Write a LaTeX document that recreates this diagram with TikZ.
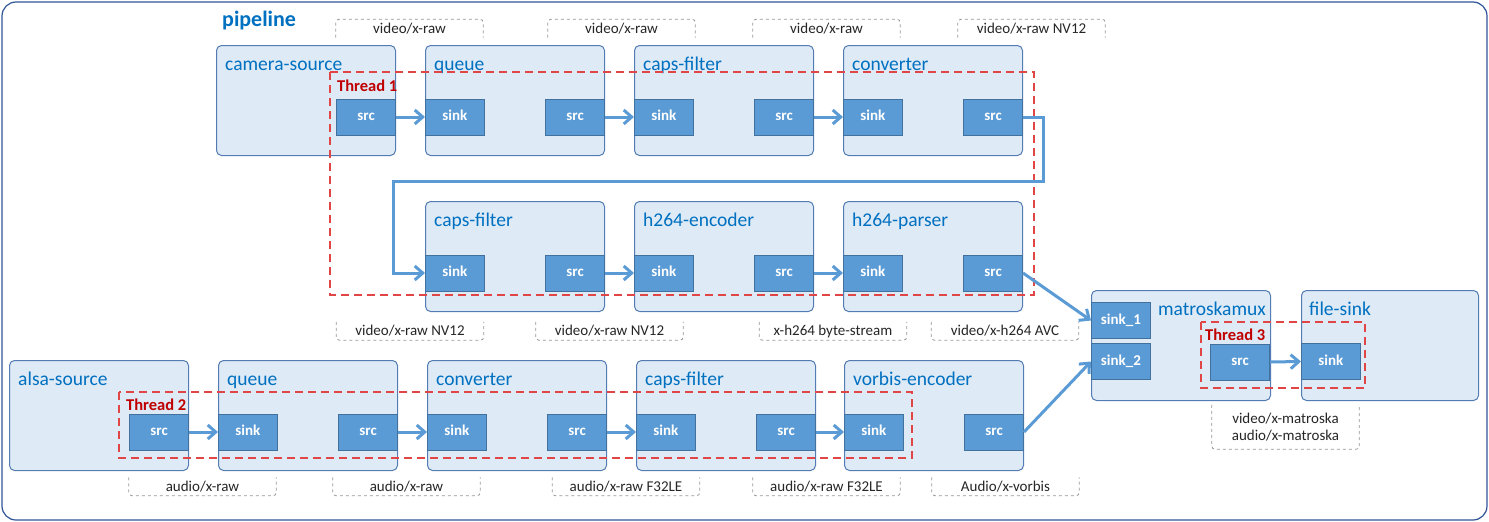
\documentclass[tikz,border=0pt]{standalone}
\usepackage{fontspec}
\setmainfont{Carlito}
\usetikzlibrary{arrows.meta}
\definecolor{frameblue}{RGB}{47,85,151}
\definecolor{elemfill}{RGB}{222,234,246}
\definecolor{elemline}{RGB}{84,124,180}
\definecolor{titleblue}{RGB}{0,112,192}
\definecolor{portfill}{RGB}{91,155,213}
\definecolor{portline}{RGB}{65,113,156}
\definecolor{flowblue}{RGB}{91,155,213}
\definecolor{threadred}{RGB}{224,70,70}
\definecolor{threadtext}{RGB}{192,0,0}
\definecolor{capsgray}{RGB}{150,150,150}

\begin{document}
\begin{tikzpicture}[x=1pt,y=-1pt,
    element/.style={draw=elemline,fill=elemfill,line width=1pt,rounded corners=5pt,minimum width=179pt,minimum height=110pt,anchor=north west,inner sep=0pt},
    eltitle/.style={anchor=base west,text=titleblue,font=\fontsize{19.5}{22}\selectfont,inner sep=0pt},
    padbox/.style={draw=portline,fill=portfill,line width=0.8pt,minimum width=59pt,minimum height=36pt,inner sep=0pt,text height=10pt,text depth=3pt,text=white,font=\bfseries\fontsize{15}{17}\selectfont},
    flowarrow/.style={draw=flowblue,line width=3pt,-{Straight Barb[length=8pt,width=14pt]}},
    threadbox/.style={draw=threadred,line width=1.5pt,dash pattern=on 8pt off 5pt},
    threadlabel/.style={anchor=base west,text=threadtext,font=\bfseries\fontsize{16.5}{18}\selectfont,inner sep=0pt},
    capsbox/.style={minimum width=147pt,minimum height=18pt,inner sep=0pt,text=black!85,font=\fontsize{15}{17}\selectfont},
    bracket/.style={draw=capsgray,dashed,line width=0.8pt,rounded corners=3pt}]
  \useasboundingbox (0,0) rectangle (1489,522);
  \draw[draw=frameblue,line width=1.2pt,rounded corners=14pt] (2,2) rectangle (1487,520);
  \node[anchor=base west,inner sep=0pt,text=titleblue,font=\bfseries\fontsize{22}{24}\selectfont] (pipe) at (222,27) {pipeline};
  % elements
  \foreach \n/\x/\y/\t in {cam/216/45/camera-source, qa/425/45/queue, cfa/634/45/caps-filter, cva/843/45/converter,
      cfb/425/201/caps-filter, enc/634/201/h264-encoder, prs/843/201/h264-parser,
      alsa/9/360/alsa-source, qb/218/360/queue, cvb/427/360/converter, cfc/636/360/caps-filter, vrb/844/360/vorbis-encoder}{
    \node[element] (\n) at (\x,\y) {};
    \node[eltitle] (\n-t) at ([shift={(9,25)}]\n.north west) {\t};}
  \node[element] (mux) at (1091,290) {};
  \node[eltitle,anchor=base east] (mux-t) at ([shift={(-5,25)}]mux.north east) {matroskamux};
  \node[element,minimum width=177pt] (fs) at (1301,290) {};
  \node[eltitle] (fs-t) at ([shift={(8,25)}]fs.north west) {file-sink};
  % threads
  \draw[threadbox] (330,72) rectangle (1034,295);
  \node[threadlabel] (th1) at (337,91) {Thread 1};
  \draw[threadbox] (119,392) rectangle (912,458);
  \node[threadlabel] (th2) at (126,410) {Thread 2};
  \draw[threadbox] (1201,322) rectangle (1365,388);
  \node[threadlabel] (th3) at (1205,340) {Thread 3};
  % pads
  \foreach \n in {qa,cfa,cva,cfb,enc,prs,qb,cvb,cfc,vrb}{
    \node[padbox,anchor=west] (\n-sink) at ([yshift=-16.5pt]\n.west) {sink};}
  \foreach \n in {cam,qa,cfa,cva,cfb,enc,prs,alsa,qb,cvb,cfc,vrb}{
    \node[padbox,anchor=east] (\n-src) at ([yshift=-16.5pt]\n.east) {src};}
  \node[padbox,anchor=west] (mux-sink1) at ([yshift=25pt]mux.west) {sink\_1};
  \node[padbox,anchor=west] (mux-sink2) at ([yshift=-16pt]mux.west) {sink\_2};
  \node[padbox,anchor=east] (mux-src) at ([xshift=-1pt,yshift=-16.5pt]mux.east) {src};
  \node[padbox,anchor=west] (fs-sink) at ([yshift=-16pt]fs.west) {sink};
  % links
  \foreach \a/\b in {cam/qa,qa/cfa,cfa/cva,cfb/enc,enc/prs,alsa/qb,qb/cvb,cvb/cfc,cfc/vrb,mux/fs}{
    \draw[flowarrow] (\a-src.east) -- (\b-sink.west);}
  \draw[flowarrow] (cva-src.east) -- ++(20,0) -- ++(0,64) -| ([xshift=-32pt]cfb-sink.west) -- (cfb-sink.west);
  \draw[flowarrow] (prs-src.east) -- (mux-sink1.west);
  \draw[flowarrow] (vrb-src.east) -- (mux-sink2.west);
  % caps
  \foreach \x/\y/\t [count=\i] in {409.5/28.5/video\slash x-raw, 621.5/28.5/video\slash x-raw, 826.5/28.5/video\slash x-raw, 1031.5/28.5/video\slash x-raw NV12}{
    \node[capsbox] (capt\i) at (\x,\y) {\t};
    \draw[bracket] (capt\i.south west) -- (capt\i.north west) -- (capt\i.north east) -- (capt\i.south east);}
  \foreach \x/\y/\t [count=\i] in {410/331/video\slash x-raw NV12, 609.5/331/video\slash x-raw NV12, 833/331/x-h264 byte-stream, 1005/331/video\slash x-h264 AVC,
      202.5/486.5/audio\slash x-raw, 406.5/486.5/audio\slash x-raw, 626/486.5/audio\slash x-raw F32LE, 826.5/486.5/audio\slash x-raw F32LE, 1005.5/486.5/Audio\slash x-vorbis}{
    \node[capsbox] (capb\i) at (\x,\y) {\t};
    \draw[bracket] (capb\i.north west) -- (capb\i.south west) -- (capb\i.south east) -- (capb\i.north east);}
  \node[capsbox,minimum height=44pt,align=center] (capm) at (1285.5,427) {video\slash x-matroska\\audio\slash x-matroska};
  \draw[bracket] (capm.north west) -- (capm.south west) -- (capm.south east) -- (capm.north east);
\end{tikzpicture}
\end{document}
